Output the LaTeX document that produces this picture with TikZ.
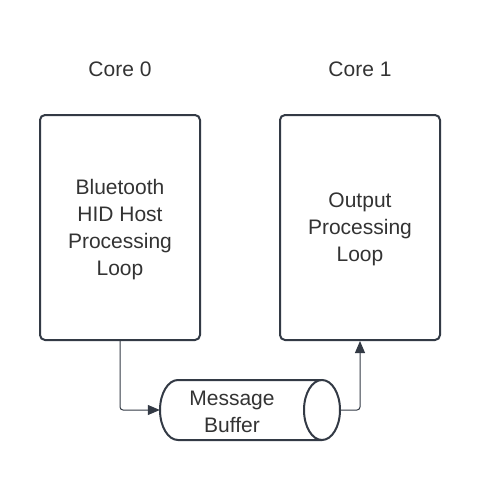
\documentclass[tikz,border=0pt]{standalone}
\usepackage{fontspec}
\setmainfont{Liberation Sans}
\usetikzlibrary{arrows.meta}
\definecolor{ink}{HTML}{333A45}
\definecolor{txt}{HTML}{333333}
\begin{document}
\begin{tikzpicture}[x=1pt,y=-1pt,
  core/.style={draw=ink,line width=2pt,rounded corners=5pt,minimum width=160pt,minimum height=225pt,inner sep=0pt},
  lbl/.style={text=txt,font=\fontsize{21pt}{27pt}\selectfont,align=center},
  conn/.style={draw=ink,line width=1pt,rounded corners=3pt,-{Triangle[length=12pt,width=10pt]}}]
\useasboundingbox (0,0) rectangle (480,480);
\node[core] (left) at (120,227.5) {};
\node[core] (right) at (360,227.5) {};
\node[lbl] at (120,229.5) {Bluetooth\\HID Host\\Processing\\Loop};
\node[lbl] at (360,229.5) {Output\\Processing\\Loop};
\node[lbl] (c0) at (120,69) {Core 0};
\node[lbl] (c1) at (360,69) {Core 1};
\node[minimum width=180pt,minimum height=60pt,inner sep=0pt] (buf) at (250,410) {};
\draw[ink,line width=2pt] (322,380) -- (178,380) arc[start angle=-90,end angle=-270,x radius=18,y radius=30]
  -- (322,440);
\draw[ink,line width=2pt,fill=white] (322,410) ellipse[x radius=18,y radius=30];
\node[lbl] at (232,412) {Message\\Buffer};
\draw[conn] (left.south) |- (buf.west);
\draw[conn] (buf.east) -| (right.south);
\end{tikzpicture}
\end{document}
